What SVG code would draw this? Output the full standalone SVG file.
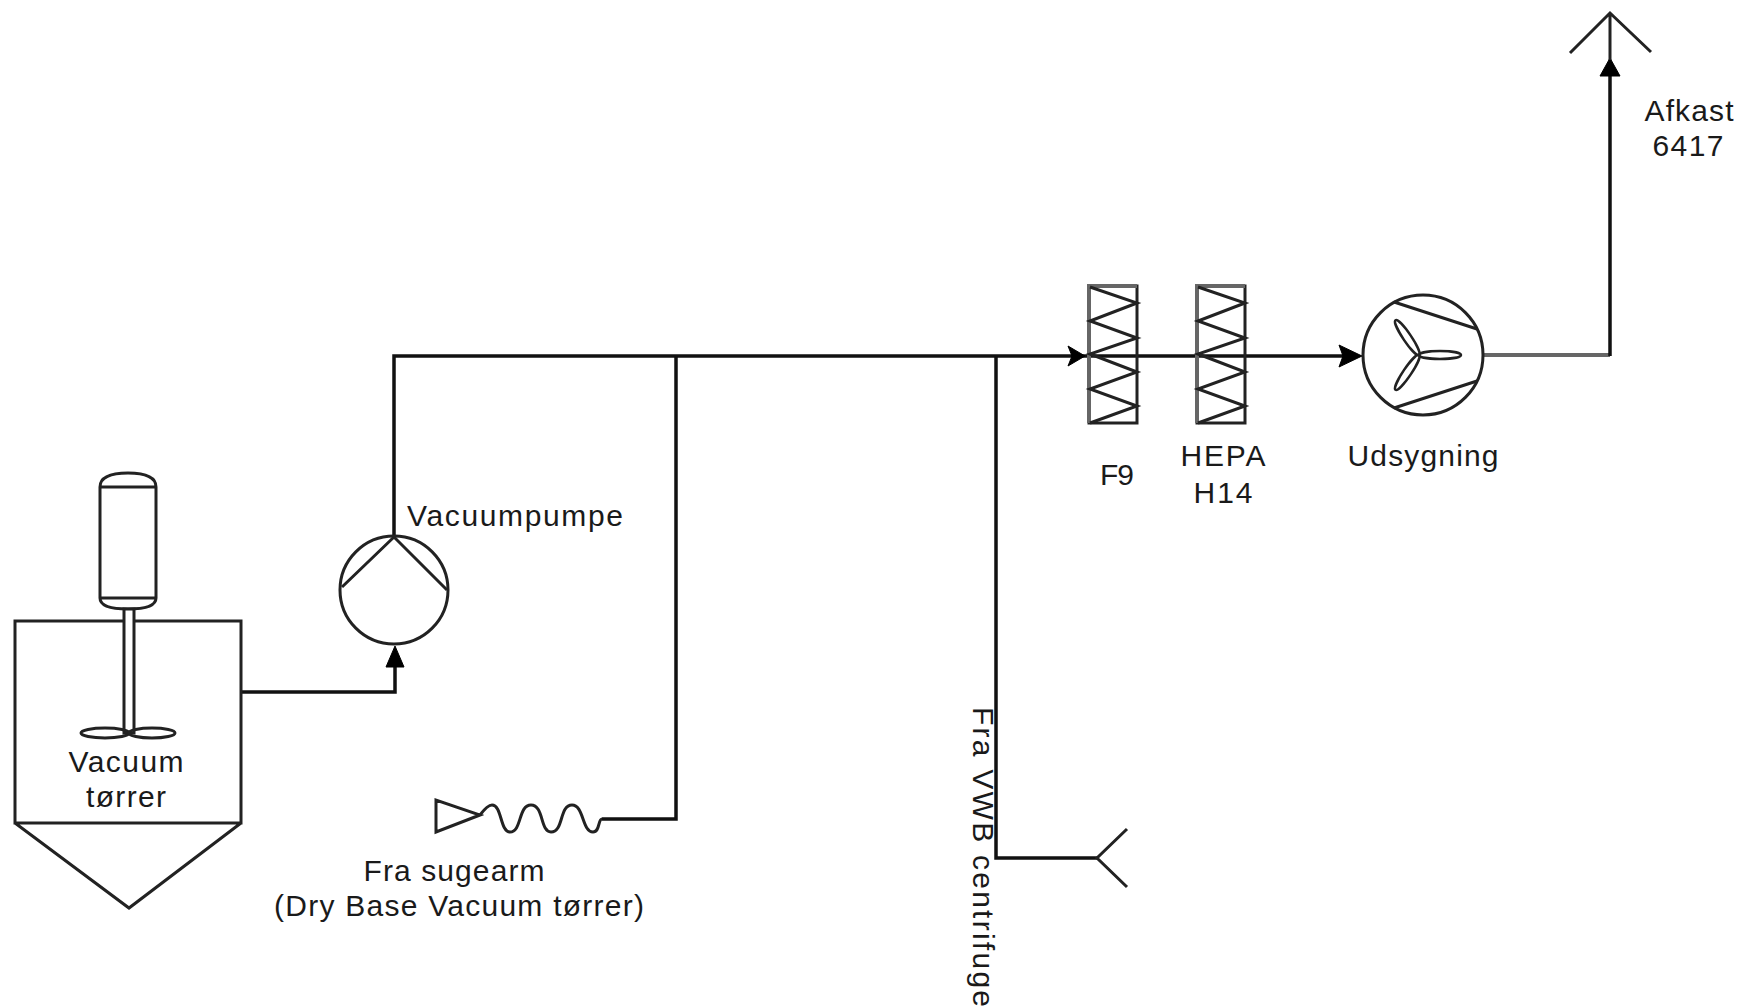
<svg xmlns="http://www.w3.org/2000/svg" width="1744" height="1008" viewBox="0 0 1744 1008">
<style>
.s{fill:none;stroke:#222;stroke-width:3;stroke-linejoin:miter}
.c{fill:none;stroke:#111;stroke-width:3.5}
.g{fill:none;stroke:#666;stroke-width:4}
.h{fill:#000;stroke:#000;stroke-width:1}
text{font-family:"Liberation Sans",Arial,sans-serif;font-size:30px;fill:#1a1a1a;text-anchor:middle}
</style>
<rect width="1744" height="1008" fill="#fff"/>
<g id="connectors">
<path class="c" d="M242 692H395V662"/>
<path class="c" d="M394 537V356H1075"/>
<path class="c" d="M676 356V819H602"/>
<path class="c" d="M996 356V858H1097"/>
<path class="c" d="M1075 356H1345"/>
<path class="g" d="M1483 355H1610"/>
<path class="c" d="M1610 356V72"/>
<path class="h" d="M395 646L404 667H386Z"/>
<path class="h" d="M1085 356L1068 346L1072 356L1068 366Z"/>
<path class="h" d="M1362 356L1339 345L1343 356L1339 367Z"/>
<path class="h" d="M1610 58L1620 76H1600Z"/>
</g>
<g id="vacuum-dryer">
<path class="s" d="M15 621H241V823H15ZM15 823L129 908L241 823"/>
<path class="s" d="M100 487Q100 473 128 473Q156 473 156 487V598Q156 609 128 609Q100 609 100 598ZM100 487H156M100 598H156"/>
<path d="M124 609H134V733H124Z" style="fill:#fff;stroke:#222;stroke-width:3"/>
<ellipse class="s" cx="105" cy="733" rx="24" ry="5"/>
<ellipse class="s" cx="152" cy="733" rx="23" ry="5"/>
<text x="126" y="772" textLength="115">Vacuum</text>
<text x="126" y="807" textLength="80">tørrer</text>
</g>
<g id="vacuum-pump">
<circle class="s" cx="394" cy="590" r="54"/>
<path class="s" d="M342 587L394 537L447 590"/>
<text x="515" y="526" textLength="216">Vacuumpumpe</text>
</g>
<g id="suction-arm">
<path class="s" d="M436 800V832L480 815ZM480 815C486 807 490 805 492 805C502 805 500 832 510 832C522 832 518 805 531 805C544 805 540 832 551 832C564 832 559 805 572 805C584 805 582 832 593 832C600 832 598 819 602 819"/>
<text x="454" y="881" textLength="181">Fra sugearm</text>
<text x="459" y="916" textLength="370">(Dry Base Vacuum tørrer)</text>
</g>
<g id="filter-f9">
<rect class="s" x="1089" y="286" width="48" height="137"/>
<path class="g" d="M1089 423V286H1137"/>
<path class="s" d="M1090 287L1137 303L1090 321L1137 338L1090 354L1137 372L1090 389L1137 406L1090 423"/>
<text x="1117" y="485" textLength="34">F9</text>
</g>
<g id="filter-hepa">
<rect class="s" x="1197" y="286" width="48" height="137"/>
<path class="g" d="M1197 423V286H1245"/>
<path class="s" d="M1198 287L1245 303L1198 321L1245 338L1198 354L1245 372L1198 389L1245 406L1198 423"/>
<text x="1223" y="466" textLength="85">HEPA</text>
<text x="1223" y="503" textLength="59">H14</text>
</g>
<g id="fan">
<circle class="s" cx="1423" cy="355" r="60"/>
<path class="s" d="M1394 302L1477 329M1394 408L1477 381"/>
<g class="s" style="stroke-width:2.5">
<ellipse cx="1440" cy="355" rx="21" ry="4"/>
<ellipse cx="1440" cy="355" rx="21" ry="4" transform="rotate(124 1419 355)"/>
<ellipse cx="1440" cy="355" rx="21" ry="4" transform="rotate(-124 1419 355)"/>
</g>
<text x="1423" y="466" textLength="151">Udsygning</text>
</g>
<g id="vent">
<path class="s" d="M1570 53L1610 13L1651 52M1610 13V60"/>
<text x="1689" y="121" textLength="89">Afkast</text>
<text x="1688" y="156" textLength="71">6417</text>
</g>
<g id="centrifuge-inlet">
<path class="s" d="M1127 829L1097 858L1127 887"/>
<text transform="translate(973 857) rotate(90)" textLength="300">Fra VWB centrifuge</text>
</g>
</svg>
